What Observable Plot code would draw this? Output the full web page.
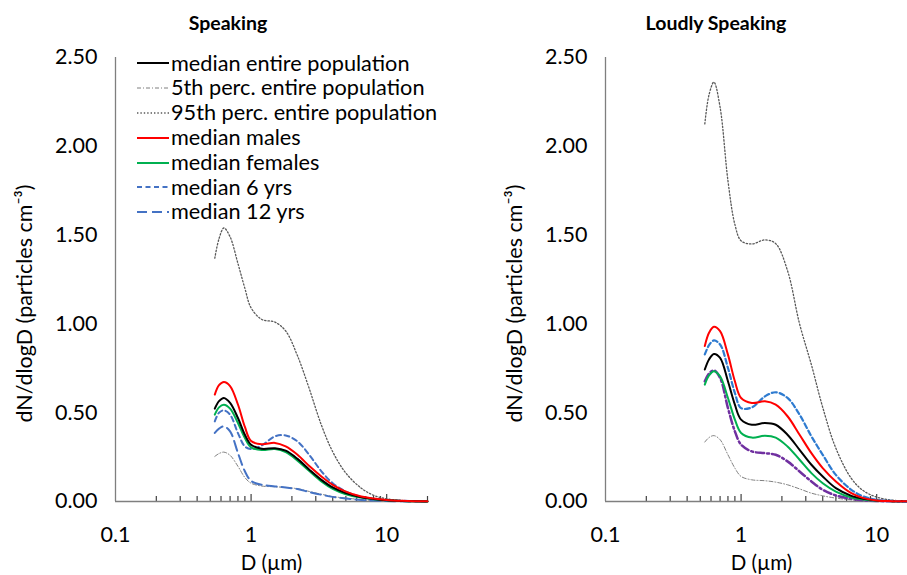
<!DOCTYPE html>
<html><head><meta charset="utf-8">
<script src="https://cdn.jsdelivr.net/npm/d3@7"></script>
<script src="https://cdn.jsdelivr.net/npm/@observablehq/plot@0.6"></script>
<style>
html,body{margin:0;padding:0;background:#fff;overflow:hidden;}
#wrap{position:relative;width:907px;height:575px;overflow:hidden;font-family:Lato,sans-serif;color:#000;}
.panel{position:absolute;top:0;}
.title{position:absolute;top:11px;font-weight:bold;font-size:19.5px;transform:translateX(-50%);white-space:nowrap;}
#legend{position:absolute;left:137px;top:51px;font-size:21.7px;line-height:1;}
.row{display:flex;align-items:center;height:24.8px;white-space:nowrap;}
.row svg{margin-right:2px;}
</style></head><body><div id="wrap"></div>
<script>
// Particle diameter D (µm) sample points
const D = [0.54, 0.58, 0.63, 0.7, 0.8, 0.9, 1.0, 1.2, 1.5, 1.8, 2.2, 2.7, 3.3, 4, 5, 6.5, 8, 10, 13, 16, 20];

// Speaking
const spMedian  = [0.523, 0.565, 0.583, 0.555, 0.47, 0.376, 0.32, 0.297, 0.30, 0.286, 0.24, 0.178, 0.122, 0.079, 0.047, 0.024, 0.014, 0.007, 0.003, 0.001, 0.0005];
const spP5      = [0.254, 0.27, 0.278, 0.26, 0.198, 0.135, 0.103, 0.087, 0.083, 0.079, 0.072, 0.056, 0.041, 0.028, 0.019, 0.011, 0.006, 0.003, 0.001, 0.0005, 0.0002];
const spP95     = [1.37, 1.48, 1.54, 1.49, 1.34, 1.20, 1.09, 1.025, 1.01, 0.96, 0.82, 0.63, 0.43, 0.28, 0.16, 0.075, 0.035, 0.015, 0.006, 0.002, 0.001];
const spMales   = [0.602, 0.655, 0.673, 0.65, 0.546, 0.42, 0.34, 0.322, 0.33, 0.31, 0.263, 0.198, 0.141, 0.094, 0.056, 0.028, 0.017, 0.009, 0.004, 0.002, 0.001];
const spFemales = [0.489, 0.53, 0.545, 0.523, 0.442, 0.357, 0.305, 0.29, 0.295, 0.278, 0.23, 0.17, 0.113, 0.071, 0.041, 0.022, 0.013, 0.007, 0.003, 0.001, 0.0005];
const sp6yrs    = [0.451, 0.50, 0.513, 0.489, 0.385, 0.31, 0.295, 0.316, 0.367, 0.372, 0.338, 0.26, 0.17, 0.103, 0.056, 0.026, 0.014, 0.008, 0.004, 0.002, 0.001];
const sp12yrs   = [0.386, 0.41, 0.423, 0.395, 0.273, 0.17, 0.116, 0.094, 0.085, 0.079, 0.07, 0.053, 0.038, 0.026, 0.017, 0.009, 0.005, 0.003, 0.001, 0.0005, 0.0002];

// Loudly speaking
const lsMedian  = [0.743, 0.80, 0.831, 0.809, 0.677, 0.545, 0.461, 0.432, 0.442, 0.432, 0.376, 0.291, 0.207, 0.141, 0.075, 0.032, 0.015, 0.006, 0.002, 0.001, 0.0005];
const lsP5      = [0.335, 0.36, 0.371, 0.348, 0.263, 0.188, 0.141, 0.122, 0.117, 0.109, 0.094, 0.071, 0.047, 0.032, 0.019, 0.009, 0.004, 0.002, 0.001, 0.0005, 0.0002];
const lsP95     = [2.126, 2.29, 2.361, 2.22, 1.806, 1.56, 1.468, 1.45, 1.473, 1.452, 1.30, 1.00, 0.77, 0.53, 0.30, 0.13, 0.06, 0.025, 0.008, 0.003, 0.001];
const lsMales   = [0.875, 0.95, 0.984, 0.959, 0.827, 0.677, 0.583, 0.555, 0.564, 0.545, 0.48, 0.376, 0.272, 0.188, 0.113, 0.047, 0.019, 0.006, 0.002, 0.001, 0.0005];
const lsFemales = [0.658, 0.71, 0.734, 0.705, 0.583, 0.461, 0.386, 0.36, 0.37, 0.36, 0.31, 0.235, 0.16, 0.103, 0.056, 0.023, 0.011, 0.004, 0.002, 0.001, 0.0005];
const ls6yrs    = [0.828, 0.88, 0.907, 0.884, 0.752, 0.611, 0.526, 0.53, 0.592, 0.615, 0.583, 0.489, 0.367, 0.263, 0.15, 0.066, 0.028, 0.009, 0.003, 0.001, 0.0005];
const lsPurple  = [0.677, 0.72, 0.738, 0.696, 0.526, 0.395, 0.32, 0.282, 0.272, 0.263, 0.226, 0.169, 0.113, 0.066, 0.034, 0.015, 0.007, 0.003, 0.001, 0.0005, 0.0002];

// Axis ticks and labels
const yTicks = [0, 0.5, 1, 1.5, 2, 2.5];
const xMajor = [0.1, 1, 10];
const xMinor = [0.2, 0.3, 0.4, 0.5, 0.6, 0.7, 0.8, 0.9, 2, 3, 4, 5, 6, 7, 8, 9, 20];
const titles = ["Speaking", "Loudly Speaking"];
const xLabel = "D (µm)";
const yLabel = "dN/dlogD (particles cm⁻³)";
const legendLabels = ["median entire population", "5th perc. entire population", "95th perc. entire population", "median males", "median females", "median 6 yrs", "median 12 yrs"];

const st = {
  median:  {stroke: "#000000", width: 2, dash: null},
  p5:      {stroke: "#7f7f7f", width: 1, dash: "4,2,1,2"},
  p95:     {stroke: "#595959", width: 1.3, dash: "1.4,2"},
  males:   {stroke: "#ff0000", width: 2, dash: null},
  females: {stroke: "#00b050", width: 2, dash: null},
  y6:      {stroke: "#4472c4", width: 2, dash: "5,3.5"},
  y12:     {stroke: "#4472c4", width: 2, dash: "10,5"},
  y6b:     {stroke: "#2e7bd0", width: 2.2, dash: "5,3"},
  purple:  {stroke: "#7030a0", width: 2.5, dash: "8,3,2,3"}
};

const speaking = [
  {key: "p95", values: spP95}, {key: "p5", values: spP5}, {key: "y12", values: sp12yrs},
  {key: "y6", values: sp6yrs}, {key: "females", values: spFemales}, {key: "median", values: spMedian},
  {key: "males", values: spMales}
];
const loudly = [
  {key: "p95", values: lsP95}, {key: "p5", values: lsP5}, {key: "purple", values: lsPurple},
  {key: "females", values: lsFemales}, {key: "median", values: lsMedian}, {key: "y6b", values: ls6yrs},
  {key: "males", values: lsMales}
];

const axisColor = "#7f7f7f";

function panel(series) {
  const rows = series.flatMap(s => s.values.map((v, i) => ({D: D[i], v, key: s.key})));
  return Plot.plot({
    width: 453, height: 575,
    marginLeft: 115, marginRight: 26, marginTop: 57, marginBottom: 74,
    style: {fontFamily: "Lato, sans-serif", fontSize: "21.5px", color: "#000", background: "transparent", overflow: "visible"},
    x: {type: "log", domain: [0.1, 20]},
    y: {domain: [0, 2.5]},
    marks: [
      Plot.axisY({ticks: yTicks, tickSize: 0, tickPadding: 18, tickFormat: d3.format(".2f"), label: null}),
      Plot.axisX({ticks: xMajor, tickSize: 0, tickPadding: 25, tickFormat: d => String(d), label: null}),
      Plot.tickX(xMinor, {x: d => d, insetTop: 439, stroke: "#404040", strokeWidth: 1.2}),
      Plot.tickX(xMajor.slice(1), {x: d => d, insetTop: 437, stroke: "#404040", strokeWidth: 1.2}),
      Plot.ruleX([0.1], {stroke: axisColor, strokeWidth: 1.3}),
      Plot.ruleY([0], {stroke: axisColor, strokeWidth: 1.3}),
      ...series.map(s => Plot.line(rows.filter(r => r.key === s.key), {
        x: "D", y: "v", curve: "catmull-rom",
        stroke: st[s.key].stroke, strokeWidth: st[s.key].width, strokeDasharray: st[s.key].dash
      })),
      Plot.text([yLabel], {text: d => d, frameAnchor: "left", textAnchor: "middle", lineAnchor: "middle", rotate: -90, dx: -90, dy: 24, fontSize: 21.5}),
      Plot.text([xLabel], {text: d => d, frameAnchor: "bottom", lineAnchor: "middle", dy: 62, fontSize: 20.5})
    ]
  });
}

const wrap = document.getElementById("wrap");
const offsets = [0, 490];
[speaking, loudly].forEach((s, i) => {
  const p = panel(s);
  p.classList.add("panel");
  p.style.left = offsets[i] + "px";
  wrap.appendChild(p);
});

const titleX = [228, 716];
titles.forEach((t, i) => {
  const d = document.createElement("div");
  d.className = "title";
  d.style.left = titleX[i] + "px";
  d.textContent = t;
  wrap.appendChild(d);
});

const legendKeys = ["median", "p5", "p95", "males", "females", "y6", "y12"];
const lg = document.createElement("div");
lg.id = "legend";
legendKeys.forEach((k, i) => {
  const r = document.createElement("div");
  r.className = "row";
  const s = st[k];
  r.innerHTML = `<svg width="32" height="10"><line x1="0" x2="32" y1="5" y2="5" stroke="${s.stroke}" stroke-width="${s.width}" ${s.dash ? `stroke-dasharray="${s.dash}"` : ""}/></svg><span>${legendLabels[i]}</span>`;
  lg.appendChild(r);
});
wrap.appendChild(lg);
</script>
</body></html>
